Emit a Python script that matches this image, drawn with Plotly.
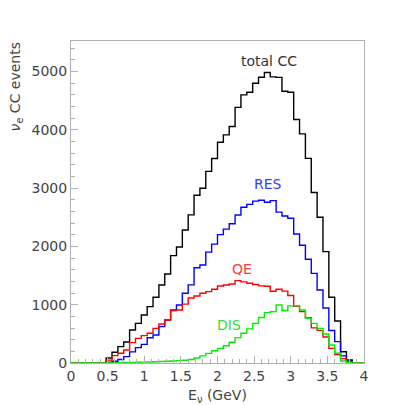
import plotly.graph_objects as go

# Histogram binning (GeV)
BIN_LOW = 0.0
BIN_WIDTH = 0.08
N_BINS = 50

# Events per bin (50 bins from 0 to 4 GeV)
total_cc = [0, 0, 0, 0, 0, 0,
            85, 185, 280, 360, 566, 680, 823, 966, 1126, 1338,
            1526, 1841, 1989, 2281, 2540, 2875, 2996, 3285, 3505, 3785,
            3910, 4053, 4382, 4596, 4642, 4796, 4899, 4979, 4905, 4897,
            4659, 4642, 4173, 3927, 3507, 2924, 2499, 1909, 1126, 720,
            194, 51, 0, 0]
res = [0, 0, 0, 0, 0, 0,
       15, 30, 60, 110, 190, 263, 320, 434, 480, 623,
       737, 909, 995, 1195, 1340, 1632, 1680, 1900, 2038, 2201,
       2295, 2387, 2538, 2670, 2720, 2775, 2790, 2756, 2784, 2587,
       2520, 2481, 2212, 2018, 1778, 1537, 1252, 943, 557, 366,
       123, 25, 0, 0]
qe = [0, 0, 0, 0, 0, 0,
      50, 126, 166, 223, 349, 423, 469, 509, 594, 669,
      737, 898, 909, 1009, 1115, 1149, 1195, 1223, 1264, 1321,
      1338, 1355, 1412, 1390, 1367, 1345, 1323, 1315, 1231, 1264,
      1232, 1158, 972, 880, 775, 603, 560, 445, 250, 146,
      75, 18, 0, 0]
dis = [0, 0, 0, 0, 0, 0,
       3, 5, 7, 9, 11, 13, 15, 18, 21, 25,
       29, 34, 40, 48, 60, 85, 123, 165, 210, 250,
       295, 355, 435, 510, 585, 680, 780, 863, 880, 995,
       900, 980, 980, 909, 766, 680, 594, 497, 309, 166,
       35, 8, 0, 0]

x_tick_vals = [0, 0.5, 1, 1.5, 2, 2.5, 3, 3.5, 4]
x_tick_text = ["0", "0.5", "1", "1.5", "2", "2.5", "3", "3.5", "4"]
y_tick_vals = [0, 1000, 2000, 3000, 4000, 5000]
y_tick_text = ["0", "1000", "2000", "3000", "4000", "5000"]

series = [
    ("total CC", total_cc, "#000000", 2.705, 5180, "#333333"),
    ("RES", res, "#0000ff", 2.684, 3070, "#3a3aff"),
    ("QE", qe, "#ff0000", 2.331, 1612, "#ff3a3a"),
    ("DIS", dis, "#00ee00", 2.153, 652, "#33dd33"),
]

edges = [BIN_LOW + BIN_WIDTH * i for i in range(N_BINS + 1)]

FONT = "DejaVu Sans"
fig = go.Figure()
for name, vals, col, lx, ly, lcol in series:
    fig.add_trace(go.Scatter(
        x=edges, y=list(vals) + [vals[-1]], mode="lines",
        line=dict(shape="hv", color=col, width=1.4),
        name=name, showlegend=False, hoverinfo="skip"))
    fig.add_annotation(x=lx, y=ly, text=name, showarrow=False,
                       font=dict(family=FONT, size=14, color=lcol),
                       xanchor="center", yanchor="middle")

fig.add_annotation(xref="paper", yref="paper", x=-0.188, y=1.003,
                   text="<i>ν</i><sub>e</sub> CC events", textangle=-90,
                   showarrow=False, xanchor="center", yanchor="top",
                   font=dict(family=FONT, size=14, color="#444444"))

axis_common = dict(showline=True, mirror=True, linecolor="#b0b0b0", linewidth=1,
                   ticks="inside", tickcolor="#b0b0b0", ticklen=7, tickwidth=1,
                   showgrid=False, zeroline=False, automargin=False,
                   tickfont=dict(family=FONT, size=14, color="#444444"))

# page body adds an 8px offset, so the figure is 397px and margins compensate
fig.update_layout(
    width=397, height=397, autosize=False,
    margin=dict(l=63, r=41, t=33, b=42),
    paper_bgcolor="white", plot_bgcolor="white",
    xaxis=dict(range=[0, 4], tickvals=x_tick_vals, ticktext=x_tick_text,
               minor=dict(dtick=0.1, ticks="inside", ticklen=4, tickcolor="#b0b0b0"),
               title=dict(text="E<sub>ν</sub> (GeV)",
                          font=dict(family=FONT, size=14, color="#444444")),
               **axis_common),
    yaxis=dict(range=[0, 5520], tickvals=y_tick_vals, ticktext=y_tick_text,
               minor=dict(dtick=200, ticks="inside", ticklen=4, tickcolor="#b0b0b0"),
               **axis_common),
)

fig.write_html("out.html")
